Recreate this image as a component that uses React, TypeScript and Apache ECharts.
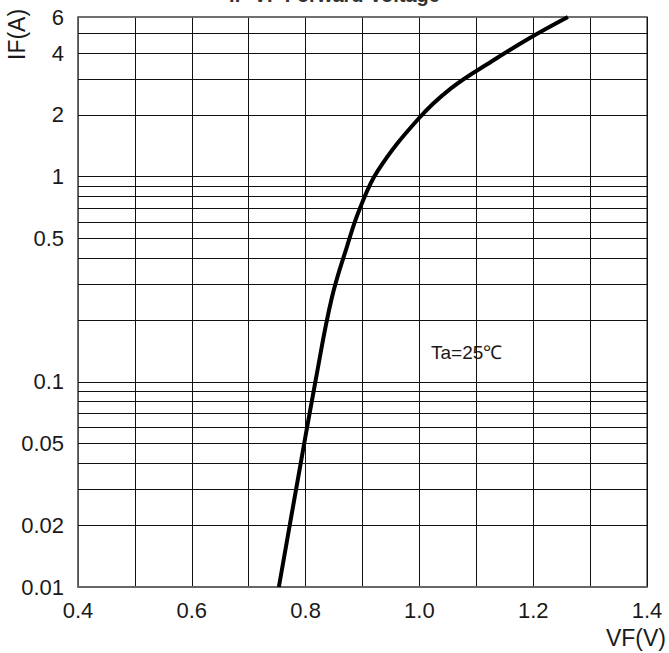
import React, { useEffect, useRef } from "react";
import * as echarts from "echarts";

const vfValues = [0.753, 0.786, 0.818, 0.846, 0.873, 0.895, 0.927, 0.998, 1.056, 1.128, 1.194, 1.261];
const ifValues = [0.01, 0.033, 0.103, 0.256, 0.459, 0.695, 1.07, 1.91, 2.7, 3.66, 4.74, 6];

const yGridValues = [0.01, 0.02, 0.03, 0.04, 0.05, 0.06, 0.07, 0.08, 0.09, 0.1, 0.2, 0.3, 0.4, 0.5, 0.6, 0.7, 0.8, 0.9, 1, 2, 3, 4, 5, 6];
const yTickValues = [0.01, 0.02, 0.05, 0.1, 0.5, 1, 2, 4, 6];
const yTickLabels = ["0.01", "0.02", "0.05", "0.1", "0.5", "1", "2", "4", "6"];
const xLabelValues = [0.4, 0.6, 0.8, 1.0, 1.2, 1.4];
const xLabelTexts = ["0.4", "0.6", "0.8", "1.0", "1.2", "1.4"];

const titleText = "IF-VF Forward Voltage";
const noteText = "Ta=25℃";
const xName = "VF(V)";
const yName = "IF(A)";

const FONT = "Liberation Sans, Arial, sans-serif";

export default function App() {
  const ref = useRef<HTMLDivElement>(null);
  useEffect(() => {
    if (!ref.current) return;
    const chart = echarts.init(ref.current, null, { renderer: "svg" });
    const curve = vfValues.map((v, i) => [v, ifValues[i]]);
    const yMin = yGridValues[0];
    const yMax = yGridValues[yGridValues.length - 1];
    const lines = yGridValues.map((v) => {
      const idx = yTickValues.findIndex((t) => Math.abs(t - v) < 1e-9);
      const isEdge = v === yMin || v === yMax;
      return {
        yAxis: v,
        lineStyle: isEdge ? { color: "#666", width: 1.5 } : { color: "#111", width: 1 },
        label: idx >= 0 ? { show: true, formatter: yTickLabels[idx] } : { show: false },
      };
    });
    chart.setOption({
      animation: false,
      backgroundColor: "#fff",
      textStyle: { fontFamily: FONT },
      grid: { left: 78, right: 22, top: 17, bottom: 66, show: true, borderColor: "#666", borderWidth: 1.5, backgroundColor: "transparent" },
      xAxis: {
        type: "value",
        min: 0.4,
        max: 1.4,
        interval: 0.1,
        axisLine: { show: true, lineStyle: { color: "#666", width: 1.5 } },
        axisTick: { show: false },
        splitLine: { show: true, lineStyle: { color: "#111", width: 1 } },
        axisLabel: {
          color: "#1a1a1a",
          fontSize: 22,
          fontFamily: FONT,
          margin: 12,
          showMaxLabel: true,
          showMinLabel: true,
          formatter: (val: number) => {
            const idx = xLabelValues.findIndex((x) => Math.abs(x - val) < 1e-6);
            return idx >= 0 ? xLabelTexts[idx] : "";
          },
        },
      },
      yAxis: {
        type: "log",
        min: yMin,
        max: yMax,
        axisLine: { show: true, lineStyle: { color: "#666", width: 1.5 } },
        axisTick: { show: false },
        axisLabel: { show: false },
        splitLine: { show: false },
      },
      series: [
        {
          type: "line",
          data: curve,
          smooth: 0.4,
          showSymbol: false,
          lineStyle: { color: "#000", width: 4 },
          z: 5,
          markLine: {
            silent: true,
            symbol: ["none", "none"],
            animation: false,
            lineStyle: { color: "#111", width: 1, type: "solid" },
            label: {
              position: "start",
              distance: 14,
              color: "#1a1a1a",
              fontSize: 22,
              fontFamily: FONT,
            },
            data: lines,
          },
        },
      ],
      graphic: [
        {
          type: "text",
          left: "center",
          top: -15,
          style: { text: titleText, font: `bold 20px ${FONT}`, fill: "#333" },
        },
        {
          type: "text",
          x: 431,
          y: 343,
          style: { text: noteText, font: `19px ${FONT}`, fill: "#1a1a1a" },
        },
        {
          type: "text",
          x: 666,
          y: 626,
          style: { text: xName, font: `23px ${FONT}`, fill: "#1a1a1a", textAlign: "right" },
        },
        {
          type: "text",
          x: 5,
          y: 60,
          rotation: Math.PI / 2,
          style: { text: yName, font: `23px ${FONT}`, fill: "#1a1a1a" },
        },
      ],
    });
    return () => chart.dispose();
  }, []);
  return <div ref={ref} style={{ position: "absolute", left: 0, top: 0, width: 669, height: 653 }} />;
}
